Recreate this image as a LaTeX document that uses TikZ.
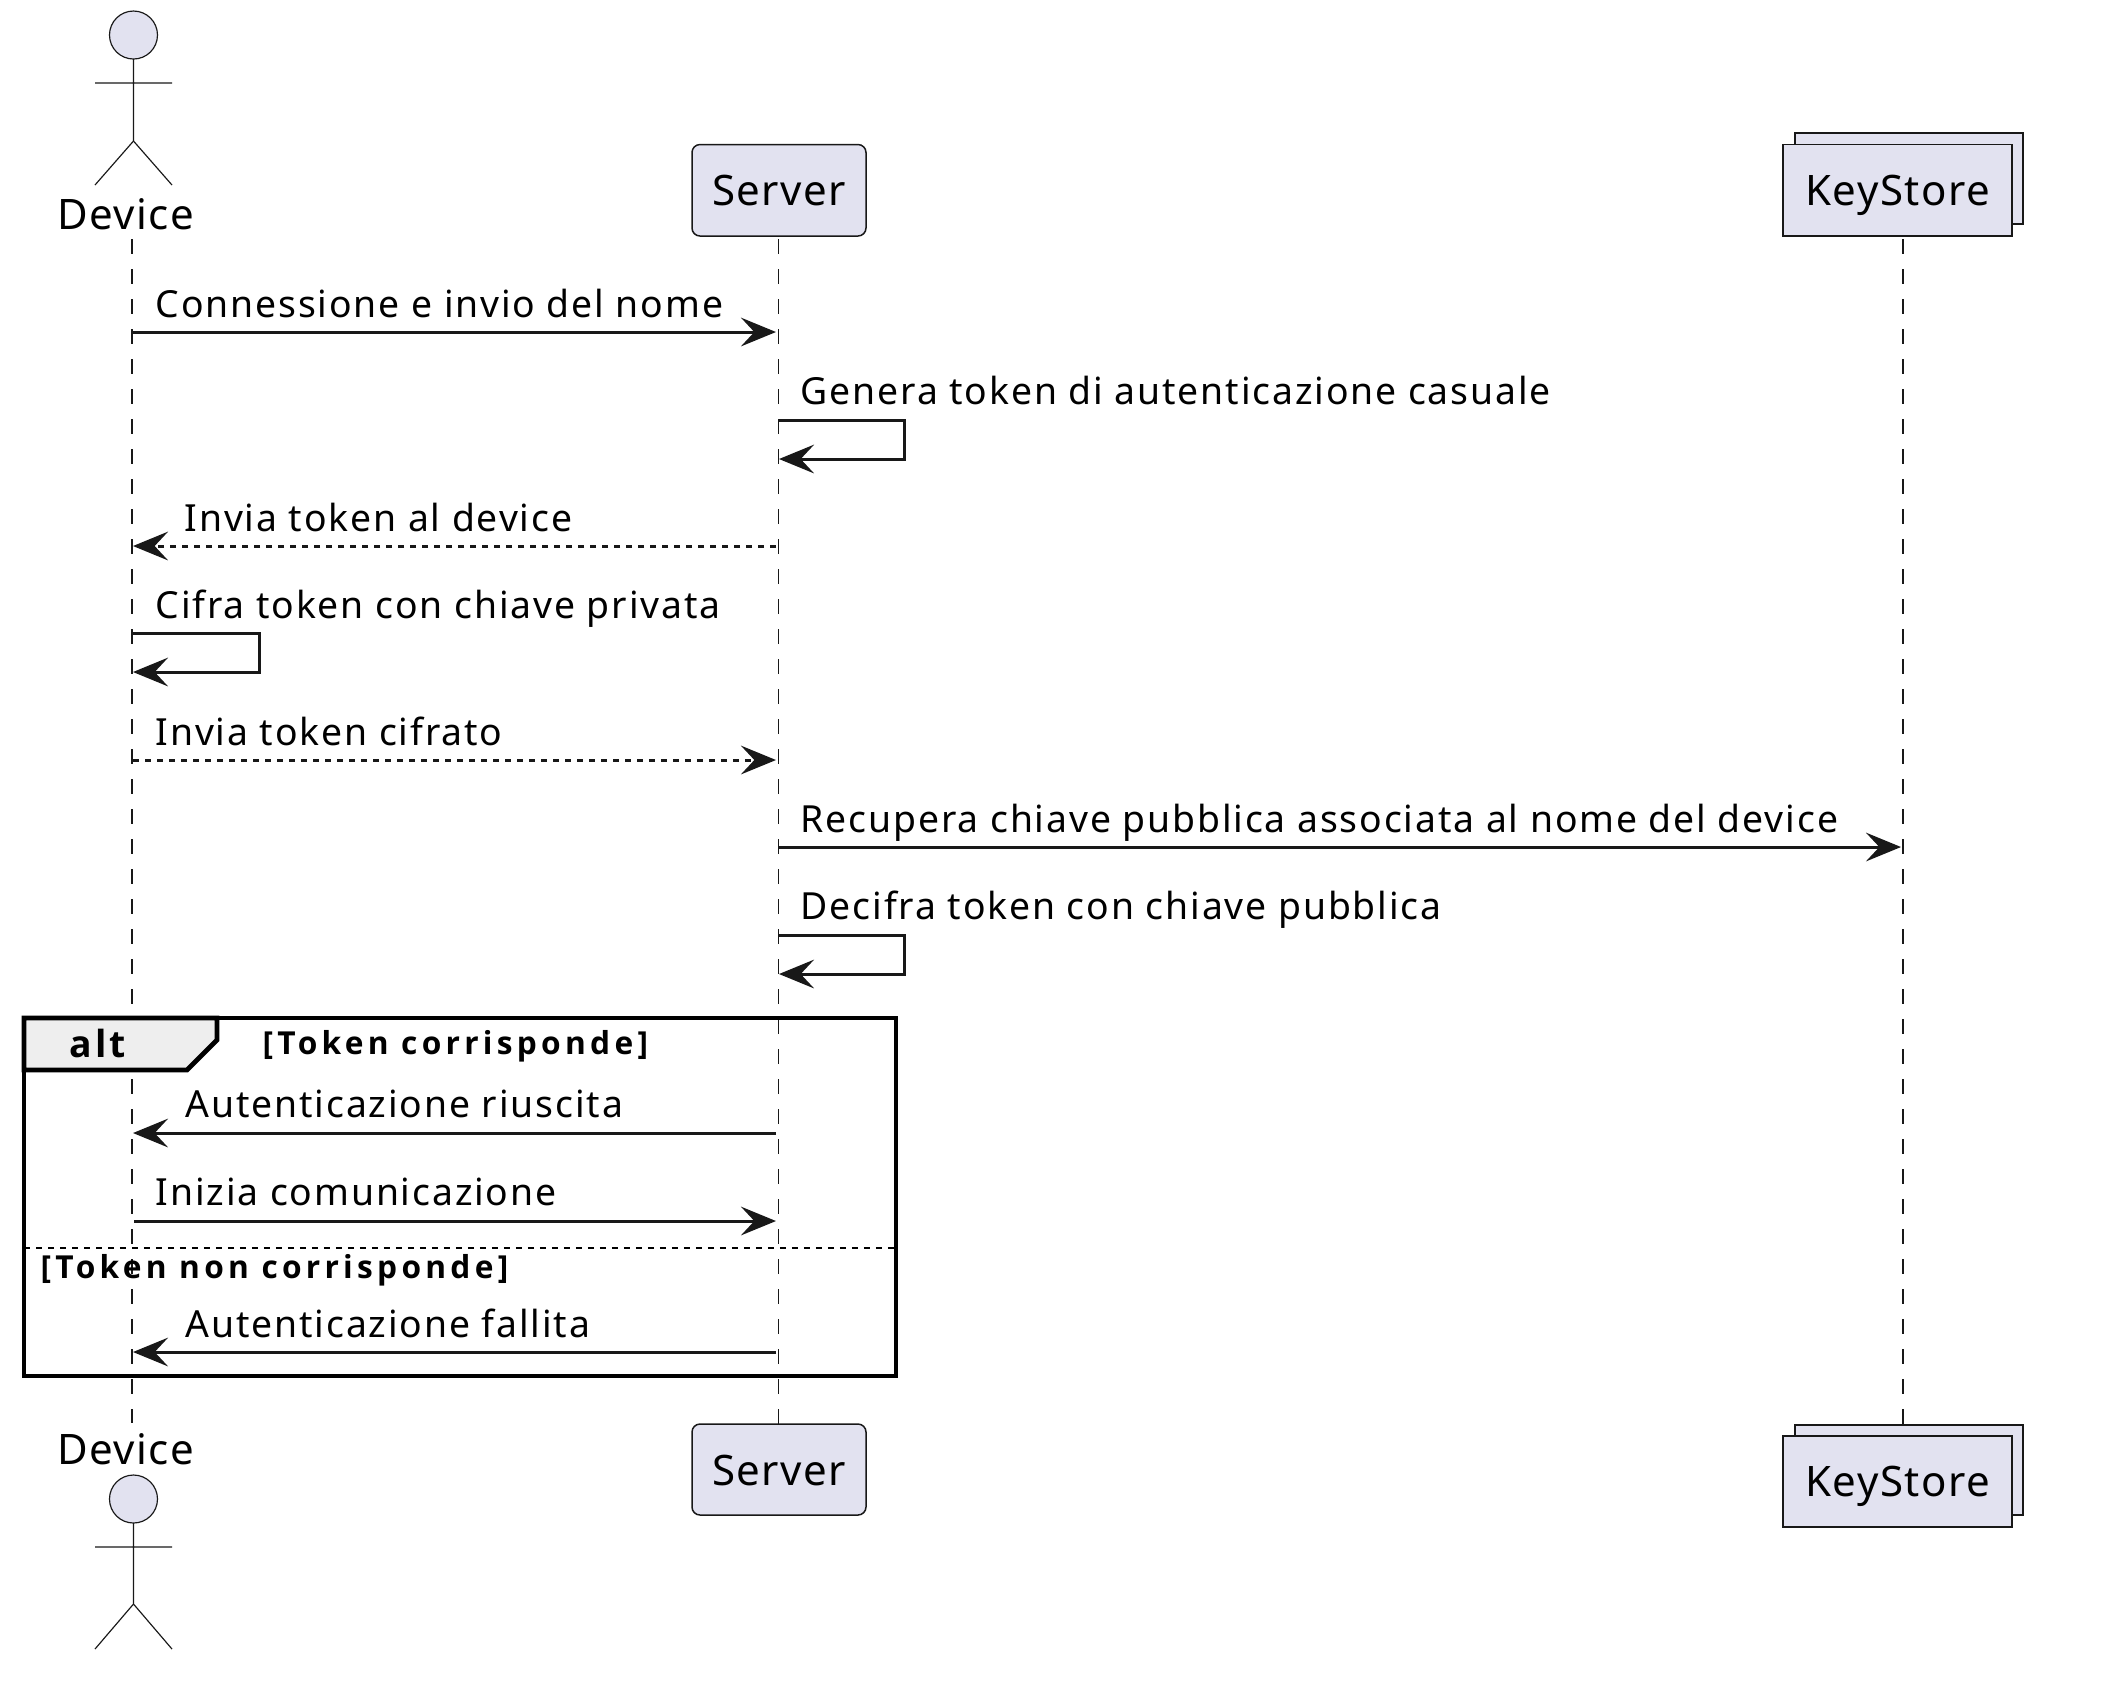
\documentclass[tikz,border=0pt]{standalone}
\usepackage{fontspec}
\setmainfont[LetterSpace=5.0]{Noto Sans}
\newfontfamily\partfont[LetterSpace=3.5]{Noto Sans}
\newfontfamily\guardfont[LetterSpace=13.5]{Open Sans}
\newfontfamily\altfont[LetterSpace=8.0]{Open Sans}
\usetikzlibrary{arrows.meta}
\definecolor{partfill}{HTML}{E2E2F0}
\definecolor{partline}{HTML}{181818}
\definecolor{tabfill}{HTML}{EEEEEE}
\tikzset{
  lifeline/.style={partline,line width=.42pt,dash pattern=on 4.5pt off 4.5pt},
  msg/.style={partline,line width=.9pt,-{Stealth[length=10.5pt,width=8.6pt,inset=4pt]}},
  msgdash/.style={msg,dash pattern=on 1.8pt off 1.8pt},
  partbox/.style={draw=partline,fill=partfill,line width=.45pt},
  stick/.style={partline,line width=.35pt},
  lbl/.style={anchor=base west,inner sep=0pt,font=\fontsize{11.2}{13}\selectfont},
  partname/.style={anchor=base,inner sep=0pt,font=\partfont\fontsize{12.6}{15}\selectfont},
  guard/.style={anchor=base west,inner sep=0pt,font=\guardfont\fontsize{9.5}{11}\selectfont\bfseries}
}
\begin{document}
\begin{tikzpicture}[x=.3pt,y=-.3pt]
\useasboundingbox (0,0) rectangle (2112,1704);
% lifelines
\coordinate (devtop) at (132,239); \coordinate (devbot) at (132,1423);
\coordinate (srvtop) at (778.5,239); \coordinate (srvbot) at (778.5,1424);
\coordinate (keytop) at (1903,239); \coordinate (keybot) at (1903,1425);
\draw[lifeline] (devtop)--(devbot);
\draw[lifeline] (srvtop)--(srvbot);
\draw[lifeline] (keytop)--(keybot);
% actors
\draw[stick,fill=partfill] (133.5,35) ellipse (24 and 24);
\draw[stick] (133.5,59)--(133.5,141) (95,83)--(172,83) (95,185)--(133.5,141)--(172,185);
\node[partname] (devA) at (125.5,229) {Device};
\draw[stick,fill=partfill] (133.5,1499) ellipse (24 and 24);
\draw[stick] (133.5,1523)--(133.5,1604) (95,1547)--(172,1547) (95,1649)--(133.5,1604)--(172,1649);
\node[partname] (devB) at (125.5,1464) {Device};
% server
\draw[partbox,rounded corners=2.4pt] (692,144.5) rectangle (866,236);
\node[partname] (srvA) at (779,205.5) {Server};
\draw[partbox,rounded corners=2.4pt] (692,1424) rectangle (866,1515);
\node[partname] (srvB) at (779,1485) {Server};
% keystore
\draw[partbox] (1795,133) rectangle (2023,224);
\draw[partbox] (1783,144.5) rectangle (2012,236);
\node[partname] (keyA) at (1897.5,205.5) {KeyStore};
\draw[partbox] (1795,1425) rectangle (2023,1515);
\draw[partbox] (1783,1436) rectangle (2012,1527);
\node[partname] (keyB) at (1897.5,1496) {KeyStore};
% alt
\draw[line width=1.4pt] (24,1018) rectangle (896,1376);
\draw[line width=1.4pt,fill=tabfill] (24,1018)--(217,1018)--(217,1040)--(187,1070)--(24,1070)--cycle;
\node[anchor=base west,inner sep=0pt,font=\altfont\fontsize{11.2}{13}\selectfont\bfseries] (altname) at (69,1057) {alt};
\node[guard] (guardA) at (262,1054) {[Token corrisponde]};
\draw[line width=.8pt,dash pattern=on 1.8pt off 1.8pt] (24,1248)--(896,1248);
\node[guard] (guardB) at (40,1278) {[Token non corrisponde]};
% messages
\coordinate (a1) at (133,332); \coordinate (b1) at (776,332);
\draw[msg] (a1)--(b1); \node[lbl] (m1) at (155,317) {Connessione e invio del nome};
\coordinate (a2) at (778,420); \coordinate (b2) at (779,459);
\draw[msg] (a2)--(904,420)--(904,459)--(b2); \node[lbl] (m2) at (800,404) {Genera token di autenticazione casuale};
\coordinate (a3) at (776,546); \coordinate (b3) at (133,546);
\draw[msgdash] (a3)--(b3); \node[lbl] (m3) at (184,531) {Invia token al device};
\coordinate (a4) at (133,633); \coordinate (b4) at (133,672);
\draw[msg] (a4)--(259,633)--(259,672)--(b4); \node[lbl] (m4) at (155,618) {Cifra token con chiave privata};
\coordinate (a5) at (133,760); \coordinate (b5) at (776,760);
\draw[msgdash] (a5)--(b5); \node[lbl] (m5) at (155,745) {Invia token cifrato};
\coordinate (a6) at (778,847); \coordinate (b6) at (1901,847);
\draw[msg] (a6)--(b6); \node[lbl] (m6) at (800,832) {Recupera chiave pubblica associata al nome del device};
\coordinate (a7) at (778,935); \coordinate (b7) at (779,974);
\draw[msg] (a7)--(904,935)--(904,974)--(b7); \node[lbl] (m7) at (800,919) {Decifra token con chiave pubblica};
\coordinate (a8) at (776,1133); \coordinate (b8) at (133,1133);
\draw[msg] (a8)--(b8); \node[lbl] (m8) at (185,1117) {Autenticazione riuscita};
\coordinate (a9) at (134,1221); \coordinate (b9) at (776,1221);
\draw[msg] (a9)--(b9); \node[lbl] (m9) at (155,1205) {Inizia comunicazione};
\coordinate (a10) at (776,1352); \coordinate (b10) at (133,1352);
\draw[msg] (a10)--(b10); \node[lbl] (m10) at (185,1337) {Autenticazione fallita};
\end{tikzpicture}
\end{document}
